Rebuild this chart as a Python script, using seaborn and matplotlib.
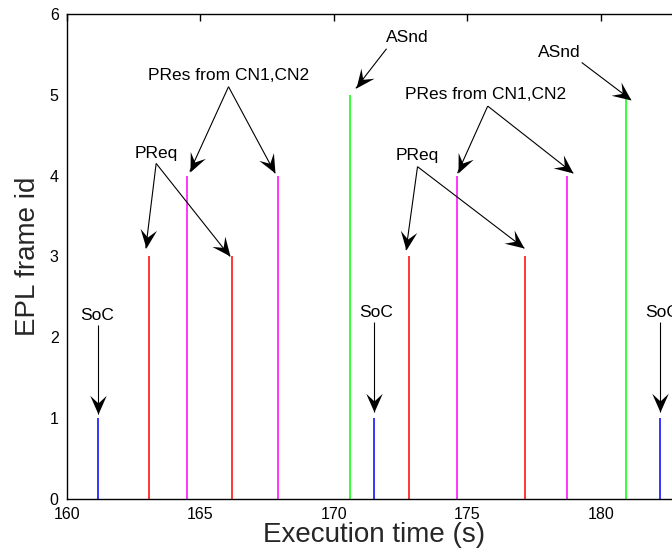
import matplotlib
matplotlib.use("Agg")
import numpy as np
import matplotlib.pyplot as plt
from matplotlib.path import Path
from matplotlib.markers import MarkerStyle
from matplotlib.transforms import Affine2D
import seaborn as sns
import pandas as pd

# ---- data ----
event_times = [161.15, 163.07, 164.48, 166.19, 167.89, 170.60, 171.51,
               172.81, 174.61, 177.14, 178.73, 180.95, 182.22]
frame_ids = [1, 3, 4, 3, 4, 5, 1, 3, 4, 3, 4, 5, 1]
frame_types = ["SoC", "PReq", "PRes", "PReq", "PRes", "ASnd", "SoC",
               "PReq", "PRes", "PReq", "PRes", "ASnd", "SoC"]
type_colors = {"SoC": "#0000ff", "PReq": "#ff0000", "PRes": "#ff00ff", "ASnd": "#00ff00"}

x_ticks = [160, 165, 170, 175, 180]
y_ticks = [0, 1, 2, 3, 4, 5, 6]

df = pd.DataFrame({"time": event_times, "id": frame_ids, "type": frame_types})

# ---- annotation layout: label, text pos, arrow start, [(event index, tip)] ----
annotations = [
    ("SoC", (161.12, 2.27), (161.15, 2.15), [(0, (161.15, 1.05))]),
    ("PReq", (163.36, 4.27), (163.34, 4.15), [(1, (162.95, 3.10)), (3, (166.10, 3.00))]),
    ("PRes from CN1,CN2", (166.04, 5.24), (166.05, 5.10), [(2, (164.60, 4.05)), (4, (167.79, 4.03))]),
    ("ASnd", (172.76, 5.71), (171.97, 5.57), [(5, (170.82, 5.08))]),
    ("SoC", (171.57, 2.31), (171.51, 2.19), [(6, (171.51, 1.07))]),
    ("PReq", (173.11, 4.25), (173.13, 4.11), [(7, (172.70, 3.08)), (9, (177.13, 3.10))]),
    ("PRes from CN1,CN2", (175.69, 5.00), (175.76, 4.86), [(8, (174.63, 4.03)), (10, (178.96, 4.03))]),
    ("ASnd", (178.44, 5.52), (179.28, 5.40), [(11, (181.12, 4.94))]),
    ("SoC", (182.30, 2.31), (182.22, 2.19), [(12, (182.22, 1.07))]),
]

sns.set_theme(style="white")
plt.rcParams["font.family"] = ["Liberation Sans", "DejaVu Sans"]

fig = plt.figure(figsize=(6.72, 5.56), dpi=100)
ax = fig.add_axes([67 / 672, 57.3 / 556, (681 - 67) / 672, 484.7 / 556])
ax.set_xlim(160, 183)
ax.set_ylim(0, 6)

for t, sub in df.groupby("type"):
    ax.vlines(sub["time"], 0, sub["id"], colors=type_colors[t], lw=1.1)

# notched (MATLAB "vback2"-like) arrow head, tip at origin pointing +x
head_path = Path([(0, 0), (-17, 7.5), (-10, 0), (-17, -7.5), (0, 0)],
                 [Path.MOVETO, Path.LINETO, Path.LINETO, Path.LINETO, Path.CLOSEPOLY])

for label, tpos, start, targets in annotations:
    ax.text(tpos[0], tpos[1], label, ha="center", va="center", fontsize=12.5, color="black")
    for _, tip in targets:
        ax.plot([start[0], tip[0]], [start[1], tip[1]], color="black", lw=0.8,
                solid_capstyle="butt")
        p0 = ax.transData.transform(start)
        p1 = ax.transData.transform(tip)
        ang = np.degrees(np.arctan2(p1[1] - p0[1], p1[0] - p0[0]))
        m = MarkerStyle(head_path, transform=Affine2D().rotate_deg(ang))
        ax.plot([tip[0]], [tip[1]], marker=m, markersize=27, color="black",
                markeredgewidth=0, linestyle="none", clip_on=False)

ax.set_xticks(x_ticks)
ax.set_yticks(y_ticks)
ax.tick_params(direction="in", length=5, width=1, top=True, right=True,
               labelsize=11.5, colors="black", pad=6)
for s in ax.spines.values():
    s.set_color("black")
    s.set_linewidth(1.0)
ax.set_xlabel("Execution time (s)", fontsize=20, labelpad=0)
ax.set_ylabel("EPL frame id", fontsize=20, labelpad=6)
ax.grid(False)

fig.savefig("out.png", dpi=100)
